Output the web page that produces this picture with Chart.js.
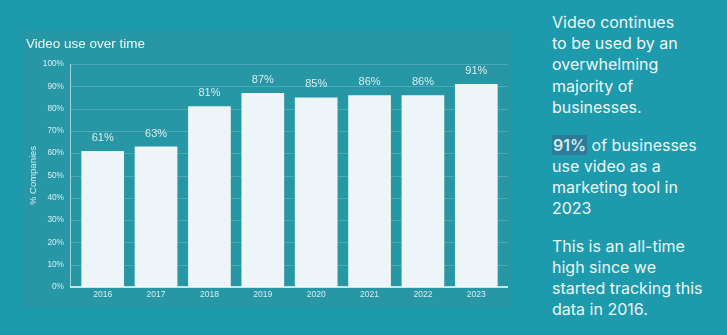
<!DOCTYPE html>
<html>
<head>
<meta charset="utf-8">
<script src="https://cdn.jsdelivr.net/npm/chart.js@4.4.0/dist/chart.umd.min.js"></script>
<style>
    html, body { margin: 0; padding: 0; }
    body {
        width: 727px;
        height: 335px;
        background: #1d9aab;
        position: relative;
        overflow: hidden;
        font-family: Inter, "Noto Sans", sans-serif;
    }
    .panel {
        position: absolute;
        left: 23px;
        top: 31px;
        width: 488px;
        height: 276px;
        background: #2797a5;
    }
    .side {
        position: absolute;
        left: 552px;
        top: 12px;
        width: 175px;
        color: #eef8f9;
        font-size: 16px;
        line-height: 21.2px;
    }
    .side p { margin: 0 0 16.5px 0; }
    .hl {
        background: #2b7c98;
        color: #d3e9f0;
        font-weight: 600;
        padding: 0 1px;
    }
</style>
</head>
<body>
<div class="panel"><canvas id="videoChart" width="488" height="276"></canvas></div>
<div class="side">
    <p>Video continues<br>to be used by an<br>overwhelming<br>majority of<br>businesses.</p>
    <p><span class="hl">91%</span> of businesses<br>use video as a<br>marketing tool in<br>2023</p>
    <p>This is an all-time<br>high since we<br>started tracking this<br>data in 2016.</p>
</div>
<script>
// Share of companies using video, by year
const years = ['2016', '2017', '2018', '2019', '2020', '2021', '2022', '2023'];
const usage = [61, 63, 81, 87, 85, 86, 86, 91];
const yTicks = [0, 10, 20, 30, 40, 50, 60, 70, 80, 90, 100];

const labelColor = '#d6edf1';
const fontFamily = '"Liberation Sans", Arial, sans-serif';

// Grid lines and axis lines reach a little past the plot on both sides
const gridPlugin = {
    id: 'gridLines',
    beforeDatasetsDraw(chart) {
        const { ctx, chartArea, scales } = chart;
        const left = chartArea.left - 6;
        const right = chartArea.right + 5;
        ctx.save();
        ctx.lineWidth = 1;
        ctx.strokeStyle = 'rgba(255, 255, 255, 0.18)';
        yTicks.forEach(v => {
            if (v === 0) return;
            const y = Math.round(scales.y.getPixelForValue(v)) + 0.5;
            ctx.beginPath();
            ctx.moveTo(left, y);
            ctx.lineTo(right, y);
            ctx.stroke();
        });
        // y axis line
        ctx.strokeStyle = 'rgba(220, 240, 244, 0.7)';
        ctx.beginPath();
        ctx.moveTo(left + 0.5, scales.y.getPixelForValue(100));
        ctx.lineTo(left + 0.5, scales.y.getPixelForValue(0));
        ctx.stroke();
        ctx.restore();
    },
    afterDatasetsDraw(chart) {
        const { ctx, chartArea, scales } = chart;
        const y = scales.y.getPixelForValue(0);
        ctx.save();
        ctx.strokeStyle = '#ffffff';
        ctx.lineWidth = 1.5;
        ctx.beginPath();
        ctx.moveTo(chartArea.left - 6, y);
        ctx.lineTo(chartArea.right + 5, y);
        ctx.stroke();
        ctx.restore();
    }
};

// Percentage above each bar
const valueLabels = {
    id: 'valueLabels',
    afterDatasetsDraw(chart) {
        const { ctx } = chart;
        const meta = chart.getDatasetMeta(0);
        ctx.save();
        ctx.font = '11px ' + fontFamily;
        ctx.fillStyle = labelColor;
        ctx.textAlign = 'center';
        ctx.textBaseline = 'middle';
        meta.data.forEach((bar, i) => {
            ctx.fillText(usage[i] + '%', bar.x, bar.y - 13);
        });
        ctx.restore();
    }
};

const ctx = document.getElementById('videoChart').getContext('2d');
const videoChart = new Chart(ctx, {
    type: 'bar',
    data: {
        labels: years,
        datasets: [{
            data: usage,
            backgroundColor: '#eef5f8',
            borderWidth: 0,
            barPercentage: 0.8,
            categoryPercentage: 1
        }]
    },
    options: {
        responsive: false,
        animation: false,
        layout: {
            padding: { left: 3, right: 8, top: 0, bottom: 0 }
        },
        plugins: {
            legend: { display: false },
            tooltip: { enabled: false },
            title: {
                display: true,
                text: 'Video use over time',
                align: 'start',
                color: '#f2f8fa',
                font: { size: 13.5, family: fontFamily, weight: 'normal' },
                padding: { top: 5.5, bottom: 11.3 }
            }
        },
        scales: {
            x: {
                grid: { display: false, drawTicks: false },
                border: { display: false },
                ticks: {
                    color: labelColor,
                    padding: 3,
                    font: { size: 8.5, family: fontFamily }
                },
                afterFit(scale) { scale.height = 20; }
            },
            y: {
                min: 0,
                max: 100,
                grid: { display: false, drawTicks: false },
                border: { display: false },
                afterBuildTicks(scale) {
                    scale.ticks = yTicks.map(v => ({ value: v }));
                },
                ticks: {
                    color: labelColor,
                    padding: 12,
                    font: { size: 8.3, family: fontFamily }
                    ,
                    callback: v => v + '%'
                },
                title: {
                    display: true,
                    text: '% Companies',
                    color: labelColor,
                    font: { size: 9.5, family: fontFamily },
                    padding: { top: 2, bottom: 0 }
                },
                afterFit(scale) { scale.width = 50; }
            }
        }
    },
    plugins: [gridPlugin, valueLabels]
});
</script>
</body>
</html>
